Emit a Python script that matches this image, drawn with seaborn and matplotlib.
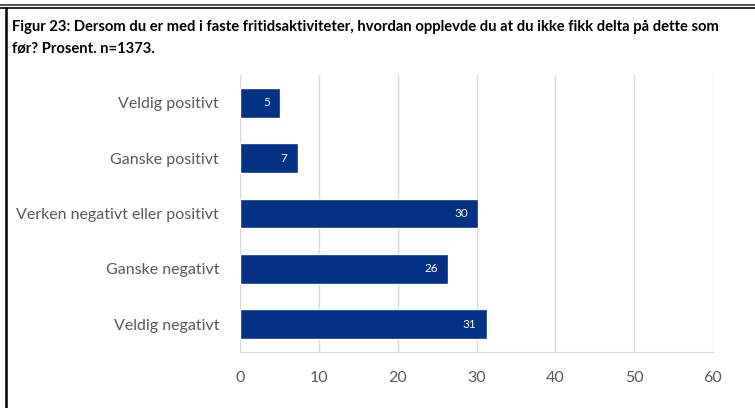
import matplotlib
matplotlib.use("Agg")
import matplotlib.pyplot as plt
import seaborn as sns
import pandas as pd
from matplotlib.lines import Line2D

# data
categories = ["Veldig positivt", "Ganske positivt", "Verken negativt eller positivt",
              "Ganske negativt", "Veldig negativt"]
values = [5.1, 7.3, 30.2, 26.4, 31.3]
xticks = [0, 10, 20, 30, 40, 50, 60]
title = ("Figur 23: Dersom du er med i faste fritidsaktiviteter, hvordan opplevde du at du ikke fikk delta på dette som\n"
         "før? Prosent. n=1373.")

df = pd.DataFrame({"kategori": categories, "prosent": values})

sns.set_style("white")
plt.rcParams["font.family"] = ["Lato", "DejaVu Sans"]

fig = plt.figure(figsize=(7.55, 4.08), dpi=100)
ax = fig.add_axes([240 / 755, 1 - 352 / 408, (713 - 240) / 755, (352 - 75) / 408])

sns.barplot(data=df, x="prosent", y="kategori", color="#023185", width=0.54,
            saturation=1, ax=ax, zorder=3)

for p, v in zip(ax.patches, values):
    ax.text(p.get_width() - 1.3, p.get_y() + p.get_height() / 2, f"{v:.0f}",
            ha="right", va="center", color="white", fontsize=8.5, zorder=4)

ax.set_xlim(0, 60)
ax.set_xticks(xticks)
ax.set_xlabel("")
ax.set_ylabel("")
ax.grid(axis="x", color="#d9d9d9", linewidth=1, zorder=0)
for s in ["top", "right", "left"]:
    ax.spines[s].set_visible(False)
ax.spines["bottom"].set_color("#d9d9d9")
ax.tick_params(axis="x", colors="#595959", labelsize=11.5, length=0, pad=14)
ax.tick_params(axis="y", colors="#595959", labelsize=11.5, length=0, pad=15)

fig.text(12 / 755, 1 - 20 / 408, title, ha="left", va="top", fontsize=10.6,
         fontweight="bold", color="black", linespacing=1.7)

# frame around the figure
fig.add_artist(Line2D([0, 1], [1 - 5 / 408, 1 - 5 / 408], color="#333333", linewidth=1.2))
fig.add_artist(Line2D([0, 1], [1 - 8 / 408, 1 - 8 / 408], color="black", linewidth=1.2))
fig.add_artist(Line2D([6 / 755, 6 / 755], [0, 1 - 8 / 408], color="black", linewidth=1.8))

fig.savefig("out.png", dpi=100)
